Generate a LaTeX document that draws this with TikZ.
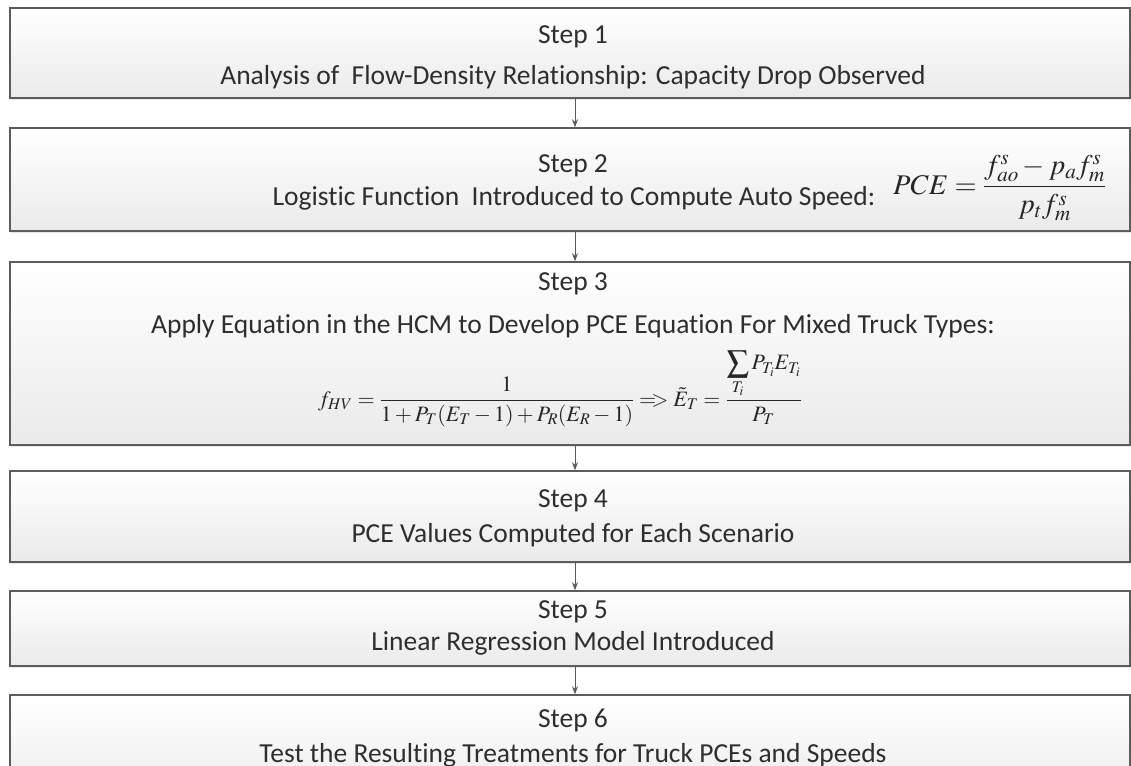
\documentclass[tikz,border=0pt]{standalone}
\usepackage{amsmath}
\usepackage{mathptmx}
\usepackage{fontspec}
\setmainfont{Carlito}[Ligatures=NoCommon]
\usetikzlibrary{arrows.meta,shadows}
\begin{document}
\begin{tikzpicture}[x=1pt,y=-1pt,
  stepbox/.style={draw=black!64, line width=1.5pt, top color=white, bottom color=black!8,
    minimum width=1120pt, inner sep=0pt,
    drop shadow={opacity=0.18, shadow xshift=0.8pt, shadow yshift=-1.6pt}},
  steptext/.style={anchor=base, inner sep=0pt, text=black!82,
    font=\fontsize{27.5}{32}\selectfont},
  mathtext/.style={anchor=base, inner sep=0pt, text=black!85},
  flow/.style={draw=black!65, line width=1pt, -{Stealth[length=8pt,width=6pt]}}]
\useasboundingbox (0,0) rectangle (1131,765);
\clip (0,0) rectangle (1131,765);

% step boxes
\node[stepbox, minimum height=90pt]  (b1) at (570,53)    {};
\node[stepbox, minimum height=103pt] (b2) at (570,179.5) {};
\node[stepbox, minimum height=183pt] (b3) at (570,353.5) {};
\node[stepbox, minimum height=91pt]  (b4) at (570,516.5) {};
\node[stepbox, minimum height=75pt]  (b5) at (570,628.5) {};
\node[stepbox, minimum height=110pt] (b6) at (570,750)   {};

% step 1
\node[steptext] (t1a) at (573,44) {Step 1};
\node[steptext] (t1b) at (573,85) {Analysis of\ \ Flow-Density Relationship: Capacity Drop Observed};

% step 2
\node[steptext] (t2a) at (573,172) {Step 2};
\node[steptext] (t2b) at (574,205) {Logistic Function\ \ Introduced to Compute Auto Speed:};
\node[mathtext, anchor=base west, font=\fontsize{28.5}{32}\selectfont] (m2) at (893,194)
  {$PCE=\dfrac{f_{ao}^{s}-p_{a}f_{m}^{s}}{p_{t}f_{m}^{s}}$};

% step 3
\node[steptext] (t3a) at (573,290) {Step 3};
\node[steptext] (t3b) at (573,333) {Apply Equation in the HCM to Develop PCE Equation For Mixed Truck Types:};
\node[mathtext, font=\fontsize{22}{26}\selectfont] (m3) at (560,406)
  {$f_{HV}=\dfrac{1}{1+P_{T}(E_{T}-1)+P_{R}(E_{R}-1)}\mathrel{=\!\!>}\tilde{E}_{T}=\dfrac{\displaystyle\sum_{T_i}P_{T_i}E_{T_i}}{P_{T}}$};

% step 4
\node[steptext] (t4a) at (573,507) {Step 4};
\node[steptext] (t4b) at (573,542) {PCE Values Computed for Each Scenario};

% step 5
\node[steptext] (t5a) at (573,618) {Step 5};
\node[steptext] (t5b) at (573,650) {Linear Regression Model Introduced};

% step 6
\node[steptext] (t6a) at (573,727) {Step 6};
\node[steptext] (t6b) at (573,762) {Test the Resulting Treatments for Truck PCEs and Speeds};

% connectors
\draw[flow] ([xshift=5pt]b1.south) -- ([xshift=5pt]b2.north);
\draw[flow] ([xshift=5pt]b2.south) -- ([xshift=5pt]b3.north);
\draw[flow] ([xshift=5pt]b3.south) -- ([xshift=5pt]b4.north);
\draw[flow] ([xshift=5pt]b4.south) -- ([xshift=5pt]b5.north);
\draw[flow] ([xshift=5pt]b5.south) -- ([xshift=5pt]b6.north);
\end{tikzpicture}
\end{document}
